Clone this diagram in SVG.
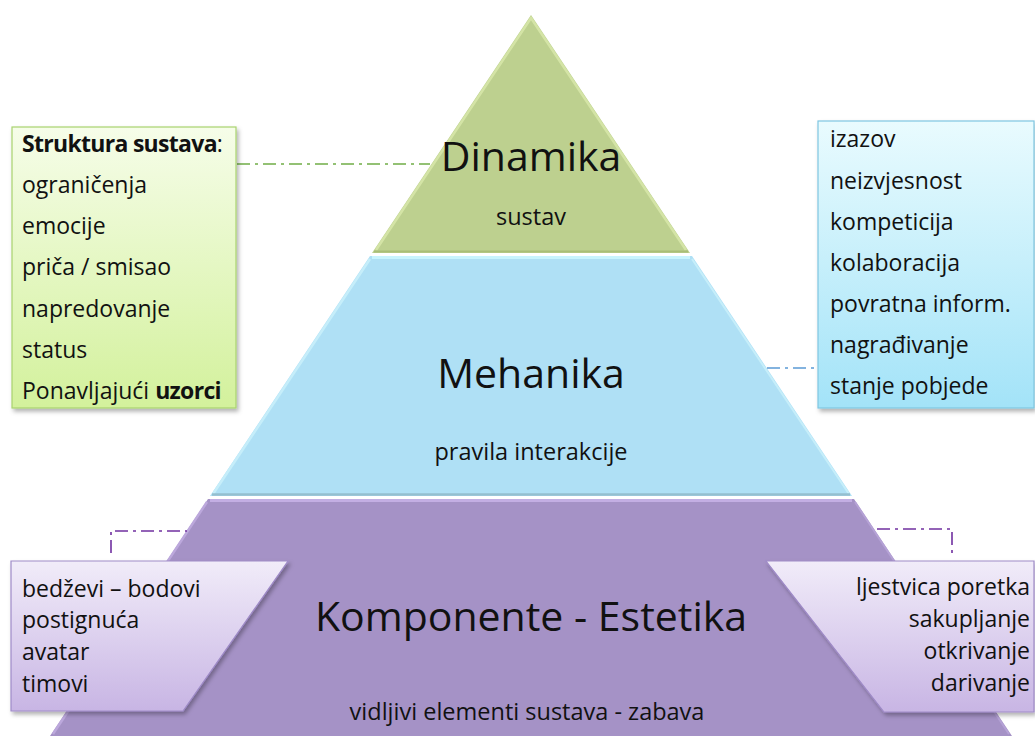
<svg xmlns="http://www.w3.org/2000/svg" width="1035" height="736" viewBox="0 0 1035 736">
<defs>
<linearGradient id="gGreenBox" x1="0" y1="0" x2="0" y2="1"><stop offset="0" stop-color="#f6fde9"/><stop offset="1" stop-color="#d3f19c"/></linearGradient>
<linearGradient id="gBlueBox" x1="0" y1="0" x2="0" y2="1"><stop offset="0" stop-color="#e9fbfe"/><stop offset="1" stop-color="#a3e3f8"/></linearGradient>
<linearGradient id="gPurpleBox" x1="0" y1="0" x2="0" y2="1"><stop offset="0" stop-color="#f1ecf9"/><stop offset="1" stop-color="#c8b5e4"/></linearGradient>
<filter id="shadow" x="-10%" y="-10%" width="125%" height="125%"><feDropShadow dx="2" dy="3" stdDeviation="2" flood-color="#000" flood-opacity="0.3"/></filter>
</defs>
<style>
text{font-family:"Open Sans","Noto Sans","DejaVu Sans",sans-serif;fill:#111}
.title{font-size:41px;text-anchor:middle}
.sub{font-size:23.5px;text-anchor:middle}
.item{font-size:23px}
.b{font-weight:bold;letter-spacing:-0.7px}
.r{text-anchor:end}
.conn{fill:none;stroke-width:1.6;stroke-dasharray:13 5 3 5}
</style>
<rect width="1035" height="736" fill="#fff"/>
<g id="pyramid">
<g id="dinamika">
<polygon points="531,15 372,253 690,253" fill="#bdd08f"/>
<polyline points="376,250 531,18 686,250" fill="none" stroke="#d4e4a6" stroke-width="2.5"/>
<line x1="374" y1="251.5" x2="688" y2="251.5" stroke="#a9bd78" stroke-width="2"/>
<text class="title" x="531" y="171">Dinamika</text>
<text class="sub" x="531" y="225">sustav</text>
</g>
<g id="mehanika">
<polygon points="370,256 692,256 852,496 210,496" fill="#afe0f5"/>
<line x1="372" y1="257.5" x2="690" y2="257.5" stroke="#c8f4fe" stroke-width="3"/>
<line x1="370" y1="259" x2="213" y2="494" stroke="#c6eefa" stroke-width="2.5"/>
<line x1="692" y1="259" x2="849" y2="494" stroke="#c6eefa" stroke-width="2"/>
<line x1="212" y1="494.5" x2="850" y2="494.5" stroke="#95bfcf" stroke-width="2.5"/>
<text class="title" x="531" y="388">Mehanika</text>
<text class="sub" x="531" y="460">pravila interakcije</text>
</g>
<g id="komponente">
<polygon points="208,499 854,499 1012,736 50,736" fill="#a592c6"/>
<line x1="210" y1="500.5" x2="852" y2="500.5" stroke="#c3aee3" stroke-width="3"/>
<line x1="207" y1="502" x2="53" y2="734" stroke="#bca8dc" stroke-width="2.5"/>
<line x1="855" y1="502" x2="1009" y2="734" stroke="#b5a2d6" stroke-width="2"/>
<text class="title" x="531" y="631">Komponente - Estetika</text>
<text class="sub" x="527" y="720">vidljivi elementi sustava - zabava</text>
</g>
</g>
<g id="connectors">
<line class="conn" x1="237" y1="164" x2="430" y2="164" stroke="#70ad47"/>
<line class="conn" x1="767" y1="368" x2="818" y2="368" stroke="#5b9bd5"/>
<polyline class="conn" points="111,553 111,531 187,531" stroke="#7030a0"/>
<polyline class="conn" points="877,529 952,529 952,553" stroke="#7030a0"/>
</g>
<g id="box-struktura">
<rect x="12" y="127" width="224" height="281" fill="url(#gGreenBox)" stroke="#a9d36f" stroke-width="1.2" filter="url(#shadow)"/>
<text class="item" x="22" y="152"><tspan class="b">Struktura sustava</tspan>:</text>
<text class="item" x="22" y="193">ograničenja</text>
<text class="item" x="22" y="234">emocije</text>
<text class="item" x="22" y="275">priča / smisao</text>
<text class="item" x="22" y="317">napredovanje</text>
<text class="item" x="22" y="358">status</text>
<text class="item" x="22" y="399">Ponavljajući <tspan class="b">uzorci</tspan></text>
</g>
<g id="box-mehanika">
<rect x="818" y="121" width="216" height="287" fill="url(#gBlueBox)" stroke="#7fc6e2" stroke-width="1.2" filter="url(#shadow)"/>
<text class="item" x="830" y="147">izazov</text>
<text class="item" x="830" y="189">neizvjesnost</text>
<text class="item" x="830" y="230">kompeticija</text>
<text class="item" x="830" y="271">kolaboracija</text>
<text class="item" x="830" y="312">povratna inform.</text>
<text class="item" x="830" y="353">nagrađivanje</text>
<text class="item" x="830" y="394">stanje pobjede</text>
</g>
<g id="box-komponente">
<polygon points="11,561 288,561 183,711 11,711" fill="url(#gPurpleBox)" stroke="#9f8bc8" stroke-width="1.2" filter="url(#shadow)"/>
<text class="item" x="22" y="597">bedževi – bodovi</text>
<text class="item" x="22" y="628">postignuća</text>
<text class="item" x="22" y="660">avatar</text>
<text class="item" x="22" y="692">timovi</text>
</g>
<g id="box-estetika">
<polygon points="766,561 1034,561 1034,712 884,712" fill="url(#gPurpleBox)" stroke="#9f8bc8" stroke-width="1.2" filter="url(#shadow)"/>
<text class="item r" x="1030" y="595">ljestvica poretka</text>
<text class="item r" x="1030" y="627">sakupljanje</text>
<text class="item r" x="1030" y="659">otkrivanje</text>
<text class="item r" x="1030" y="691">darivanje</text>
</g>
</svg>
